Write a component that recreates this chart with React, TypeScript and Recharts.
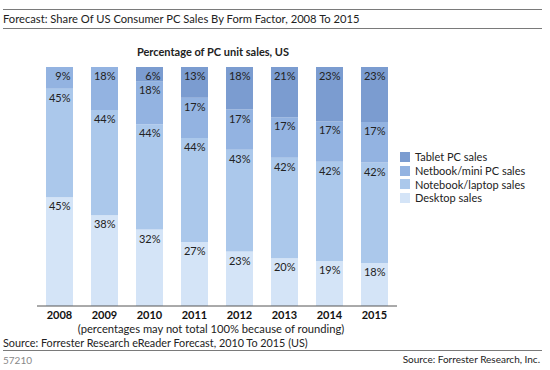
import React from "react";
import { BarChart, Bar, XAxis, YAxis, LabelList } from "recharts";

const years = ["2008", "2009", "2010", "2011", "2012", "2013", "2014", "2015"];
const desktop = [45, 38, 32, 27, 23, 20, 19, 18];
const notebook = [45, 44, 44, 44, 43, 42, 42, 42];
const netbook = [9, 18, 18, 17, 17, 17, 17, 17];
const tablet: (number | null)[] = [null, null, 6, 13, 18, 21, 23, 23];

const seriesNames = ["Tablet PC sales", "Netbook/mini PC sales", "Notebook/laptop sales", "Desktop sales"];
const seriesColors = ["#7b9cd0", "#93b3e1", "#abc8eb", "#d4e4f7"];

const data = years.map((y, i) => ({
  year: y,
  desktop: desktop[i],
  notebook: notebook[i],
  netbook: netbook[i],
  tablet: tablet[i],
}));

const FONT = "Lato, 'Open Sans', sans-serif";

const renderLabel = (props: any) => {
  const { x, y, width, value } = props;
  if (value === null || value === undefined) return null;
  return (
    <text
      x={Number(x) + Number(width) / 2 + 11}
      y={Number(y) + 13}
      textAnchor="end"
      fontSize={11}
      fontFamily={FONT}
      fill="#222"
    >
      {value}%
    </text>
  );
};

const textStyle: React.CSSProperties = {
  position: "absolute",
  fontFamily: FONT,
  color: "#222",
  whiteSpace: "nowrap",
  lineHeight: "14px",
  height: 14,
};

export default function App() {
  return (
    <div style={{ position: "absolute", left: 0, top: 0, width: 550, height: 370, background: "#fff", overflow: "hidden" }}>
      <div style={{ position: "absolute", left: 3, top: 9, width: 539, height: 0, borderTop: "1.5px solid #7a7a7a" }} />
      <div style={{ ...textStyle, left: 3, top: 12, fontSize: 11.2 }}>
        Forecast: Share Of US Consumer PC Sales By Form Factor, 2008 To 2015
      </div>
      <div style={{ position: "absolute", left: 3, top: 28, width: 539, height: 0, borderTop: "1.5px solid #7a7a7a" }} />
      <div style={{ ...textStyle, left: 0, width: 426, textAlign: "center", top: 45, fontSize: 11, fontWeight: 700 }}>
        Percentage of PC unit sales, US
      </div>

      <div style={{ position: "absolute", left: 0, top: 0 }}>
        <BarChart
          width={550}
          height={370}
          data={data}
          stackOffset="expand"
          barCategoryGap="20%"
          margin={{ top: 67, right: 153, bottom: 44, left: 37 }}
        >
          <XAxis
            dataKey="year"
            height={20}
            tickLine={false}
            tickSize={0}
            tickMargin={5}
            axisLine={{ stroke: "#555", strokeWidth: 1 }}
            tick={{ fontSize: 11, fontWeight: 700, fill: "#111", fontFamily: FONT }}
            interval={0}
          />
          <YAxis hide domain={[0, 1]} />
          <Bar dataKey="desktop" stackId="a" fill={seriesColors[3]} isAnimationActive={false}>
            <LabelList dataKey="desktop" content={renderLabel} />
          </Bar>
          <Bar dataKey="notebook" stackId="a" fill={seriesColors[2]} isAnimationActive={false}>
            <LabelList dataKey="notebook" content={renderLabel} />
          </Bar>
          <Bar dataKey="netbook" stackId="a" fill={seriesColors[1]} isAnimationActive={false}>
            <LabelList dataKey="netbook" content={renderLabel} />
          </Bar>
          <Bar dataKey="tablet" stackId="a" fill={seriesColors[0]} isAnimationActive={false}>
            <LabelList dataKey="tablet" content={renderLabel} />
          </Bar>
        </BarChart>
      </div>

      <div style={{ position: "absolute", left: 400, top: 150 }}>
        {seriesNames.map((n, i) => (
          <div key={n} style={{ display: "flex", alignItems: "center", height: 13.7 }}>
            <div style={{ width: 10, height: 10, background: seriesColors[i], marginRight: 5 }} />
            <span style={{ fontFamily: FONT, fontSize: 11, color: "#222", whiteSpace: "nowrap", lineHeight: "13px" }}>{n}</span>
          </div>
        ))}
      </div>

      <div style={{ ...textStyle, left: 0, width: 422, textAlign: "center", top: 322, fontSize: 11.2 }}>
        (percentages may not total 100% because of rounding)
      </div>
      <div style={{ ...textStyle, left: 3, top: 336, fontSize: 10.8 }}>
        Source: Forrester Research eReader Forecast, 2010 To 2015 (US)
      </div>
      <div style={{ position: "absolute", left: 3, top: 350, width: 539, height: 0, borderTop: "1.5px solid #7a7a7a" }} />
      <div style={{ ...textStyle, left: 3, top: 353, fontSize: 10, color: "#888" }}>57210</div>
      <div style={{ ...textStyle, right: 10, top: 352, fontSize: 10, textAlign: "right" }}>
        Source: Forrester Research, Inc.
      </div>
    </div>
  );
}
